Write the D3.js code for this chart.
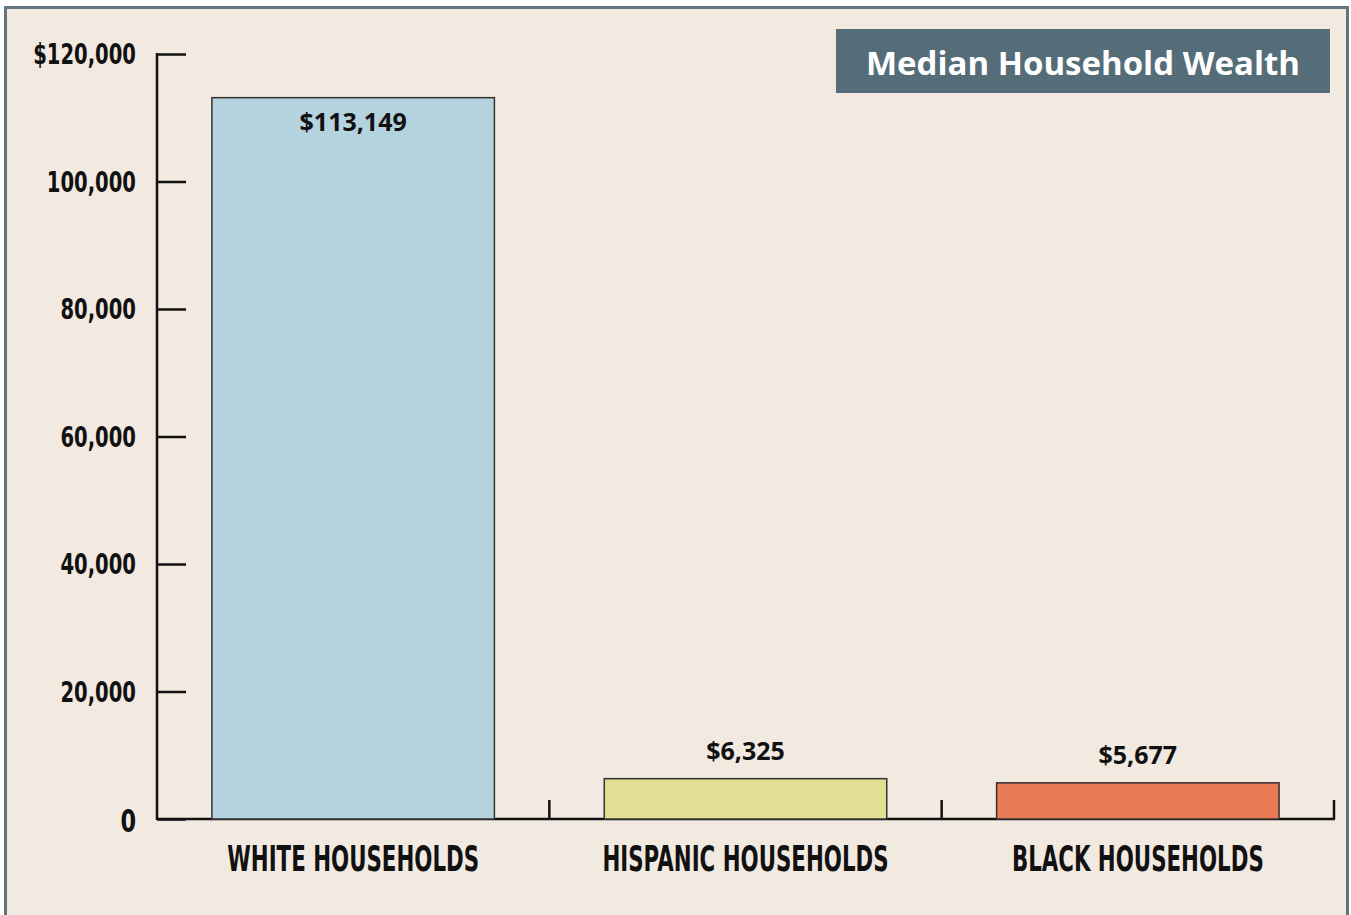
<!DOCTYPE html>
<html lang="en">
  <head>
    <meta charset="UTF-8" />
    <title>Median Household Wealth</title>
    <script src="https://cdn.jsdelivr.net/npm/d3@7"></script>
    <style>
      body { margin: 0; background: #fff; }
      .cond { font-family: "DejaVu Sans", sans-serif; font-weight: bold; }
    </style>
  </head>
  <body>
    <svg width="1351" height="915"></svg>
  </body>
  <script>
    // data
    var categories = ["WHITE HOUSEHOLDS", "HISPANIC HOUSEHOLDS", "BLACK HOUSEHOLDS"];
    var values = [113149, 6325, 5677];
    var valueLabels = ["$113,149", "$6,325", "$5,677"];
    var barColors = ["#b5d3de", "#e2df94", "#e97a54"];
    var yTicks = [0, 20000, 40000, 60000, 80000, 100000, 120000];
    var yTickLabels = ["0", "20,000", "40,000", "60,000", "80,000", "100,000", "$120,000"];
    var title = "Median Household Wealth";

    var svg = d3.select("svg");

    // frame
    svg.append("rect")
      .attr("x", 5.5).attr("y", 7.5)
      .attr("width", 1342).attr("height", 912)
      .attr("fill", "#f2e9e0")
      .attr("stroke", "#607580")
      .attr("stroke-width", 3);

    var y = d3.scaleLinear().domain([0, 120000]).range([819, 54]);
    var x = d3.scaleBand()
      .domain(categories)
      .range([157, 1334])
      .paddingInner(0.28)
      .paddingOuter(0.14);

    // y axis
    var yAxis = d3.axisRight(y)
      .tickValues(yTicks)
      .tickSize(29)
      .tickFormat(function (d, i) { return ""; });
    var gy = svg.append("g").attr("transform", "translate(157,0)").call(yAxis);
    gy.select(".domain").remove();
    gy.selectAll(".tick line").attr("stroke", "#111").attr("stroke-width", 2.5);
    svg.append("line")
      .attr("x1", 157).attr("x2", 157)
      .attr("y1", y(120000) - 1).attr("y2", y(0) + 1)
      .attr("stroke", "#111").attr("stroke-width", 2.5);

    // condensed look: squeeze DejaVu bold horizontally
    svg.selectAll(".ylab")
      .data(yTicks)
      .enter()
      .append("g")
      .attr("class", "ylab")
      .attr("transform", function (d) {
        return "translate(136," + (y(d) + (d == 0 ? 13 : 10)) + ") scale(0.7,1)";
      })
      .append("text")
      .attr("class", "cond")
      .attr("text-anchor", "end")
      .attr("font-size", function (d) { return d == 0 ? 32 : 28; })
      .attr("fill", "#111")
      .text(function (d, i) { return yTickLabels[i]; });

    // x axis line with category ticks
    svg.append("line")
      .attr("x1", 157).attr("x2", 1335)
      .attr("y1", y(0)).attr("y2", y(0))
      .attr("stroke", "#111").attr("stroke-width", 2.5);
    svg.selectAll(".xtick")
      .data(categories)
      .enter()
      .append("line")
      .attr("class", "xtick")
      .attr("x1", function (d) { return x(d) + x.bandwidth() + x.step() * 0.14; })
      .attr("x2", function (d) { return x(d) + x.bandwidth() + x.step() * 0.14; })
      .attr("y1", y(0))
      .attr("y2", y(0) - 19)
      .attr("stroke", "#111").attr("stroke-width", 2.5);

    // bars
    svg.selectAll(".bar")
      .data(values)
      .enter()
      .append("rect")
      .attr("class", "bar")
      .attr("x", function (d, i) { return x(categories[i]); })
      .attr("y", function (d) { return y(d); })
      .attr("width", x.bandwidth())
      .attr("height", function (d) { return y(0) - y(d); })
      .attr("fill", function (d, i) { return barColors[i]; })
      .attr("stroke", "#333")
      .attr("stroke-width", 1.5);

    // value labels
    svg.selectAll(".vlab")
      .data(values)
      .enter()
      .append("text")
      .attr("class", "vlab")
      .attr("x", function (d, i) { return x(categories[i]) + x.bandwidth() / 2; })
      .attr("y", function (d, i) { return i == 0 ? y(d) + 33 : y(d) - 19; })
      .attr("text-anchor", "middle")
      .attr("font-family", "'Open Sans', sans-serif")
      .attr("font-weight", "bold")
      .attr("font-size", 25)
      .attr("fill", "#111")
      .text(function (d, i) { return valueLabels[i]; });

    // category labels
    svg.selectAll(".xlab")
      .data(categories)
      .enter()
      .append("g")
      .attr("class", "xlab")
      .attr("transform", function (d) { return "translate(" + (x(d) + x.bandwidth() / 2) + ",871) scale(0.61,1)"; })
      .append("text")
      .attr("class", "cond")
      .attr("text-anchor", "middle")
      .attr("font-size", 35)
      .attr("fill", "#111")
      .text(function (d) { return d; });

    // title box
    svg.append("rect")
      .attr("x", 836).attr("y", 29)
      .attr("width", 494).attr("height", 64)
      .attr("fill", "#546d79");
    svg.append("text")
      .attr("x", 1083).attr("y", 75)
      .attr("text-anchor", "middle")
      .attr("font-family", "'Open Sans', sans-serif")
      .attr("font-weight", "bold")
      .attr("font-size", 33)
      .attr("fill", "#fff")
      .text(title);
  </script>
</html>
